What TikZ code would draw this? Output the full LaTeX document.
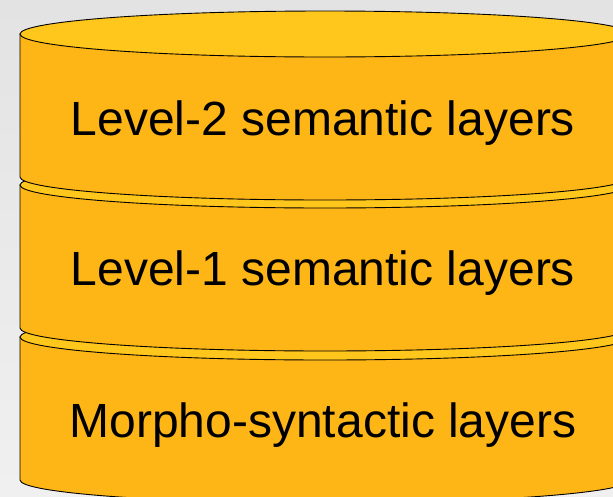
\documentclass[tikz,border=0pt]{standalone}
\usepackage{fontspec}
\setmainfont{Liberation Sans}
\usepackage{tikz}

\definecolor{canside}{RGB}{254,181,22}
\definecolor{cantop}{RGB}{255,198,27}
\definecolor{bgtop}{RGB}{227,227,227}
\definecolor{bgbot}{RGB}{240,240,240}

\begin{document}
\begin{tikzpicture}[x=1pt,y=-1pt,
  side/.style={fill=canside,draw=black,line width=0.9pt},
  lid/.style={fill=cantop,draw=black,line width=0.9pt},
  label/.style={font=\fontsize{48}{50}\selectfont,anchor=base}]
  \clip (0,0) rectangle (613,496);
  \shade[top color=bgtop,bottom color=bgbot] (0,0) rectangle (613,496);
  % three stacked cans, lowest first so the upper ones overlap
  \foreach \t in {337,185,34}{
    \draw[side] (20,\t) -- (20,\t+143)
      arc[start angle=180,end angle=0,x radius=305,y radius=23]
      -- (630,\t) -- cycle;
    \draw[lid] (325,\t) ellipse [x radius=305,y radius=23];
  }
  \node[label] (lvltwo) at (323,135) {Level-2 semantic layers};
  \node[label] (lvlone) at (323,285) {Level-1 semantic layers};
  \node[label] (morpho) at (323,437) {Morpho-syntactic layers};
\end{tikzpicture}
\end{document}
